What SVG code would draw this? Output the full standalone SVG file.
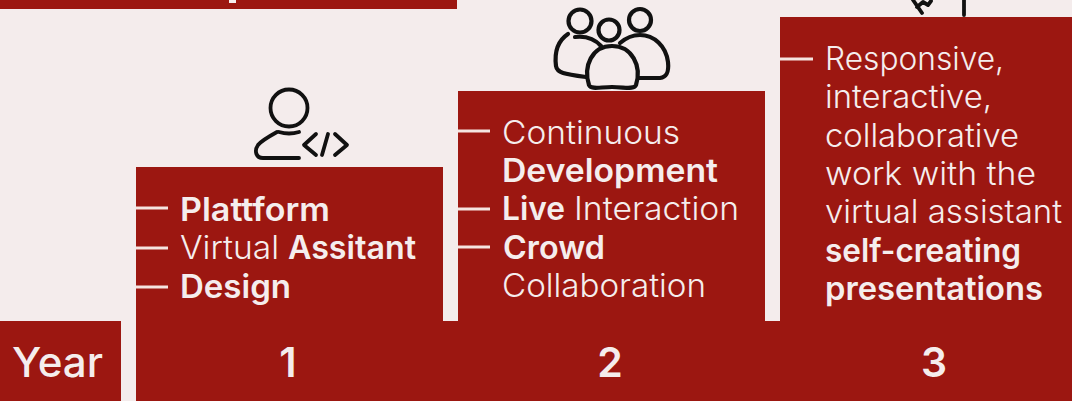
<svg xmlns="http://www.w3.org/2000/svg" width="1072" height="401" viewBox="0 0 1072 401">
<style>
.b{fill:#9c1711}
.t{font-family:"Inter","Liberation Sans",sans-serif;font-size:32px;fill:#f5eded;font-weight:300}
.s{font-weight:600}
.n{font-family:"Inter","Liberation Sans",sans-serif;font-size:41px;fill:#f5eded;font-weight:600}
.d{stroke:#f5e4e0;stroke-width:3;fill:none}
.i{stroke:#111;stroke-width:3.8;fill:none;stroke-linecap:round;stroke-linejoin:round}
</style>
<rect width="1072" height="401" fill="#f4ecec"/>
<g id="top-bar"><rect class="b" x="0" y="0" width="457" height="9"/><rect x="229" y="0" width="7" height="3" fill="#f5eded"/></g>
<g id="base"><rect class="b" x="136" y="321" width="936" height="80"/></g>
<g id="year"><rect class="b" x="0" y="321" width="121" height="80"/><text class="n" x="12" y="377" textLength="91" lengthAdjust="spacingAndGlyphs" style="font-weight:500">Year</text></g>
<g id="column-1">
<rect class="b" x="136" y="167" width="307" height="160"/>
<text class="t"><tspan class="s" x="180" y="221" textLength="150" lengthAdjust="spacingAndGlyphs">Plattform</tspan></text>
<text class="t"><tspan x="180" y="259" textLength="99" lengthAdjust="spacingAndGlyphs">Virtual</tspan><tspan class="s" x="288" y="259" textLength="128" lengthAdjust="spacingAndGlyphs">Assitant</tspan></text>
<text class="t"><tspan class="s" x="180" y="298" textLength="111" lengthAdjust="spacingAndGlyphs">Design</tspan></text>
<text class="n" x="288" y="377" text-anchor="middle">1</text>
</g>
<g id="column-2">
<rect class="b" x="458" y="91" width="307" height="236"/>
<text class="t"><tspan x="502" y="144" textLength="178" lengthAdjust="spacingAndGlyphs">Continuous</tspan></text>
<text class="t"><tspan class="s" x="502" y="182" textLength="216" lengthAdjust="spacingAndGlyphs">Development</tspan></text>
<text class="t"><tspan class="s" x="502" y="220" textLength="63" lengthAdjust="spacingAndGlyphs">Live</tspan><tspan x="574" y="220" textLength="165" lengthAdjust="spacingAndGlyphs">Interaction</tspan></text>
<text class="t"><tspan class="s" x="503" y="259" textLength="102" lengthAdjust="spacingAndGlyphs">Crowd</tspan></text>
<text class="t"><tspan x="502" y="297" textLength="204" lengthAdjust="spacingAndGlyphs">Collaboration</tspan></text>
<text class="n" x="610" y="377" text-anchor="middle">2</text>
</g>
<g id="column-3">
<rect class="b" x="780" y="17" width="292" height="310"/>
<text class="t"><tspan x="825" y="70" textLength="179" lengthAdjust="spacingAndGlyphs">Responsive,</tspan></text>
<text class="t"><tspan x="825" y="108" textLength="167" lengthAdjust="spacingAndGlyphs">interactive,</tspan></text>
<text class="t"><tspan x="825" y="147" textLength="194" lengthAdjust="spacingAndGlyphs">collaborative</tspan></text>
<text class="t"><tspan x="825" y="185" textLength="211" lengthAdjust="spacingAndGlyphs">work with the</tspan></text>
<text class="t"><tspan x="825" y="223" textLength="237" lengthAdjust="spacingAndGlyphs">virtual assistant</tspan></text>
<text class="t"><tspan class="s" x="825" y="262" textLength="196" lengthAdjust="spacingAndGlyphs">self-creating</tspan></text>
<text class="t"><tspan class="s" x="825" y="300" textLength="218" lengthAdjust="spacingAndGlyphs">presentations</tspan></text>
<text class="n" x="934" y="377" text-anchor="middle">3</text>
</g>
<g id="icon-developer" class="i">
<circle cx="289" cy="108" r="18.5"/>
<path d="M277 132C268 137 261 141 258 145C254 151 256 158 263 158H299M279 132Q289 135 299 132"/>
<path d="M316 134L304 145L316 155M328 134L322 155M335 134L347 145L335 155"/>
</g>
<g id="icon-team" class="i" style="stroke-width:4.2">
<circle cx="609" cy="30" r="10.5"/><circle cx="580" cy="21" r="11.5"/><circle cx="640" cy="20" r="11"/>
<path d="M589 85C583 66 592 46 612 46C632 46 642 66 636 85C634 90 625 87 612 87C600 87 591 90 589 85Z"/>
<path d="M568 34C559 40 554 50 556 66C557 73 564 74 586 77M575 37C584 36 594 38 601 46"/>
<path d="M620 43C627 37 632 35 640 35C654 35 666 46 668 62C669 72 667 77 660 78L638 78"/>
</g>
<g id="icon-partial" class="i">
<path d="M913 0L922 13M917 7L923 2L928 5L931 1M964 0V15"/>
</g>
<g id="connectors" class="d">
<path d="M136 208H168M136 248H168M136 287H168M458 131H490M458 209H490M458 247H490M780 59H813"/>
</g>
</svg>
